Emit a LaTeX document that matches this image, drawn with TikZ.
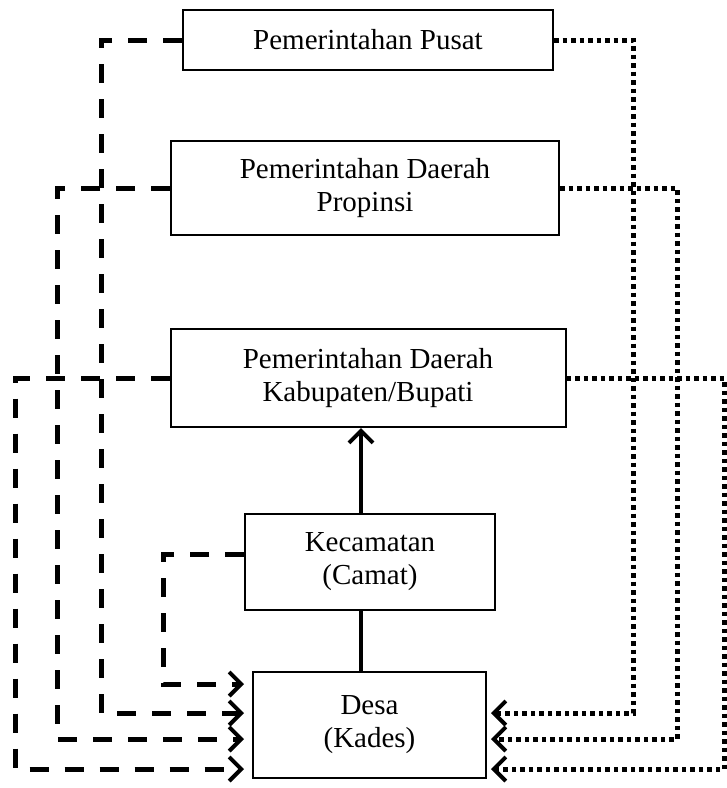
\documentclass[tikz,border=0pt]{standalone}
\usepackage{fontspec}
\setmainfont{Liberation Serif}
\usetikzlibrary{arrows.meta}
\begin{document}
\begin{tikzpicture}[x=1pt,y=-1pt,
  box/.style={draw, line width=2pt, inner sep=0pt, align=center, font=\fontsize{29}{33}\selectfont},
  dashline/.style={line width=5pt, dash pattern=on 19pt off 16pt},
  dotline/.style={line width=5pt, dash pattern=on 4.5pt off 4pt},
  barb/.style={-{Straight Barb[length=12pt,width=24pt,line width=4pt]}},
  solidline/.style={line width=4.5pt}
]
\useasboundingbox (0,0) rectangle (727,788);
\node[box, minimum width=370pt, minimum height=60pt] (pusat) at (368,40) {Pemerintahan Pusat};
\node[box, minimum width=388pt, minimum height=94pt] (prop) at (365,188) {Pemerintahan Daerah\\Propinsi};
\node[box, minimum width=395pt, minimum height=98pt] (kab) at (368,378) {Pemerintahan Daerah\\Kabupaten/Bupati};
\node[box, minimum width=250pt, minimum height=96pt] (kec) at (370,562) {Kecamatan\\(Camat)};
\node[box, minimum width=233pt, minimum height=106pt] (desa) at (369.5,725) {Desa\\(Kades)};

% lanes and levels
\coordinate (mid) at (361,0);
\coordinate (xK) at (163,0);
\coordinate (xP) at (101,0);
\coordinate (xR) at (57,0);
\coordinate (xB) at (15,0);
\coordinate (xr1) at (633,0);
\coordinate (xr2) at (677,0);
\coordinate (xr3) at (724,0);
\coordinate (y1) at (0,684);
\coordinate (y2) at (0,713);
\coordinate (y3) at (0,739);
\coordinate (y4) at (0,769);

% solid hierarchy
\draw[solidline] (desa.north -| mid) -- (kec.south -| mid);
\draw[solidline, barb] (kec.north -| mid) -- (kab.south -| mid);

% dashed lines on the left
\draw[dashline, barb, shorten >=8pt] ([yshift=8pt]kec.west) -| (xK |- y1) -- (desa.west |- y1);
\draw[dashline, barb, shorten >=8pt] (pusat.west) -| (xP |- y2) -- (desa.west |- y2);
\draw[dashline, barb, shorten >=8pt] (prop.west) -| (xR |- y3) -- (desa.west |- y3);
\draw[dashline, barb, shorten >=8pt] (kab.west) -| (xB |- y4) -- (desa.west |- y4);

% dotted lines on the right
\draw[dotline, barb, shorten >=4pt] (pusat.east) -| (xr1 |- y2) -- (desa.east |- y2);
\draw[dotline, barb, shorten >=4pt] (prop.east) -| (xr2 |- y3) -- (desa.east |- y3);
\draw[dotline, barb, shorten >=4pt] (kab.east) -| (xr3 |- y4) -- (desa.east |- y4);
\end{tikzpicture}
\end{document}
